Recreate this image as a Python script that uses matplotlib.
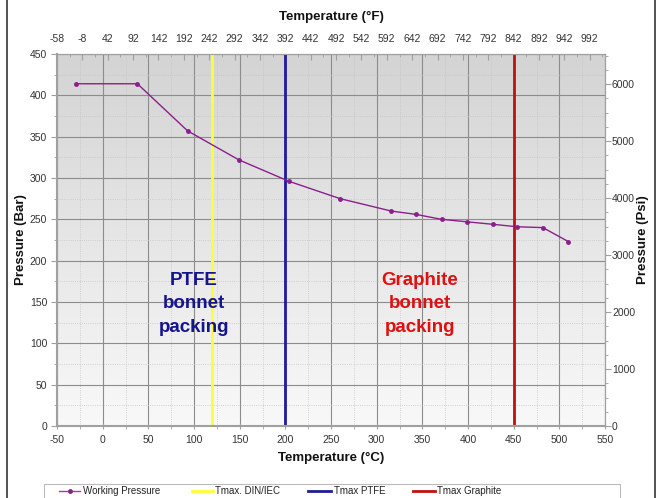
import numpy as np
import matplotlib
matplotlib.use('Agg')
import matplotlib.pyplot as plt
from matplotlib.ticker import MultipleLocator, FixedLocator
from matplotlib.patches import Rectangle
from matplotlib.lines import Line2D

plt.rcParams['font.family'] = ['Liberation Sans', 'DejaVu Sans']
plt.rcParams['axes.unicode_minus'] = False

# working pressure curve (deg C, bar)
temp_c = [-29, 38, 93, 149, 204, 260, 316, 343, 371, 399, 427, 454, 482, 510]
pressure_bar = [414, 414, 357, 322, 296, 275, 260, 256, 250, 247, 244, 241, 240, 223]

# limit temperatures
t_din = 120
t_ptfe = 200
t_graphite = 450

f_ticks = list(range(-58, 993, 50))

legend_labels = ['Working Pressure', 'Tmax. DIN/IEC', 'Tmax PTFE', 'Tmax Graphite']
legend_colors = ['#a040a0', '#ffff33', '#1c1c9c', '#c01010']

def c2f(c):
    return c * 1.8 + 32

def f2c(f):
    return (f - 32) / 1.8

def bar2psi(b):
    return b * 14.5038

def psi2bar(p):
    return p / 14.5038

fig = plt.figure(figsize=(6.59, 4.98), dpi=100)
W, H = 659.0, 498.0
ax = fig.add_axes([57 / W, 1 - 426 / H, 548 / W, 372 / H])

# gradient background, darker at the top
g = np.linspace(0.975, 0.83, 256).reshape(-1, 1, 1) * np.ones((1, 1, 3))
ax.imshow(g, extent=[-50, 550, 0, 450], aspect='auto', origin='lower', zorder=0)

ax.set_xlim(-50, 550)
ax.set_ylim(0, 450)

ax.xaxis.set_major_locator(MultipleLocator(50))
ax.xaxis.set_minor_locator(MultipleLocator(25))
ax.yaxis.set_major_locator(MultipleLocator(50))
ax.yaxis.set_minor_locator(MultipleLocator(25))
ax.grid(which='major', color='#8c8c8c', lw=0.8, zorder=1)
ax.grid(which='minor', color='#c4c4c4', lw=0.6, ls=':', zorder=1)

ax.axvline(t_din, color='#ffff33', lw=2, zorder=2)
ax.axvline(t_ptfe, color='#1c1c9c', lw=2, zorder=2)
ax.axvline(t_graphite, color='#c01010', lw=2, zorder=2)
ax.plot(temp_c, pressure_bar, color='#8b1f8b', lw=1, marker='o', ms=2.5, zorder=3)

ax.text(100, 148, 'PTFE\nbonnet\npacking', color='#14148c', fontsize=13.5,
        fontweight='bold', ha='center', va='center', linespacing=1.5)
ax.text(347, 148, 'Graphite\nbonnet\npacking', color='#e01010', fontsize=13.5,
        fontweight='bold', ha='center', va='center', linespacing=1.5)

for s in ax.spines.values():
    s.set_color('#a0a0a0')
ax.spines['left'].set_linewidth(1.5)
ax.spines['bottom'].set_linewidth(1.5)
ax.tick_params(which='both', colors='#a0a0a0', labelcolor='#333333', labelsize=7.5)
ax.tick_params(which='major', length=4)
ax.tick_params(which='minor', length=2)
ax.tick_params(axis='y', direction='out', pad=3)
ax.tick_params(axis='x', direction='inout', length=5, pad=4)

top = ax.secondary_xaxis('top', functions=(c2f, f2c))
top.xaxis.set_major_locator(FixedLocator(f_ticks))
top.xaxis.set_minor_locator(FixedLocator([f + 25 for f in f_ticks]))
top.tick_params(which='both', colors='#a0a0a0', labelcolor='#333333', labelsize=7.5,
                direction='in', pad=7)
top.tick_params(which='major', length=4)
top.tick_params(which='minor', length=2)
top.spines['top'].set_color('#a0a0a0')

right = ax.secondary_yaxis('right', functions=(bar2psi, psi2bar))
right.yaxis.set_major_locator(MultipleLocator(1000))
right.yaxis.set_minor_locator(MultipleLocator(250))
right.tick_params(which='both', colors='#a0a0a0', labelcolor='#333333', labelsize=7.5,
                  direction='out', pad=1)
right.tick_params(which='major', length=4)
right.tick_params(which='minor', length=2)
right.spines['right'].set_color('#a0a0a0')

# axis titles
lab = dict(fontsize=9.5, fontweight='bold', ha='center', va='center', color='#111111')
fig.text(331 / W, 1 - 17 / H, 'Temperature (°F)', **lab)
fig.text(331 / W, 1 - 458 / H, 'Temperature (°C)', **lab)
fig.text(21 / W, 1 - 240 / H, 'Pressure (Bar)', rotation=90, **lab)
fig.text(643 / W, 1 - 240 / H, 'Pressure (Psi)', rotation=90, **lab)

# legend box (cut by the bottom edge, as in the picture)
fig.patches.append(Rectangle((44 / W, -0.05), 576 / W, 0.05 + 1 - 484 / H,
                             transform=fig.transFigure, facecolor='white',
                             edgecolor='#bbbbbb', lw=0.8))
ly = 1 - 491 / H
for (x0, x1, xt), lab_txt, col in zip([(59, 80, 83), (192, 213, 215), (308, 331, 334), (413, 435, 437)],
                                      legend_labels, legend_colors):
    fig.add_artist(Line2D([x0 / W, x1 / W], [ly, ly], color=col,
                          lw=1 if col == '#a040a0' else 2, transform=fig.transFigure))
    if col == '#a040a0':
        fig.add_artist(Line2D([(x0 + x1) / 2 / W], [ly], color='#8b1f8b', marker='o', ms=2.5,
                              transform=fig.transFigure))
    fig.text(xt / W, ly, lab_txt, fontsize=7, va='center', ha='left', color='#222222')

# outer frame
fig.patches.append(Rectangle((7 / W, -0.01), 648 / W, 1.02, transform=fig.transFigure,
                             fill=False, edgecolor='#333333', lw=1.2))

fig.savefig('out.png', dpi=100)
